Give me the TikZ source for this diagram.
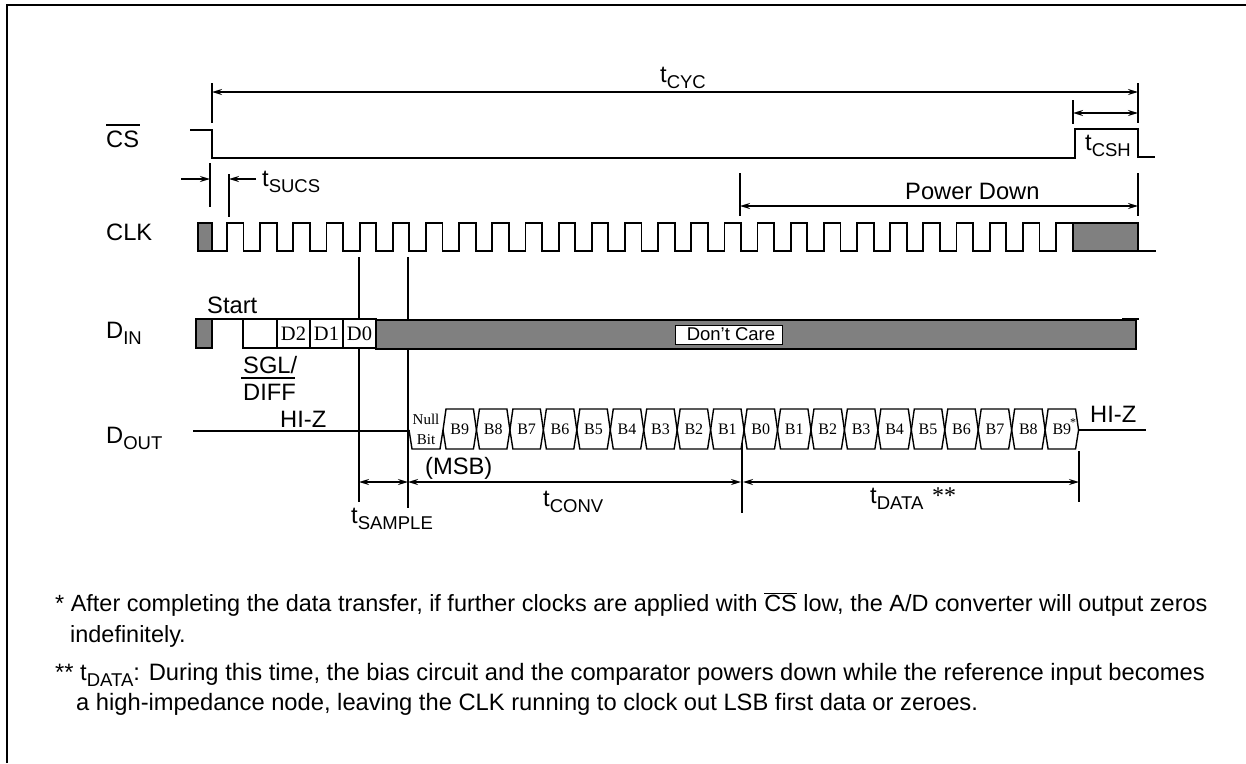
\documentclass[tikz,border=0pt]{standalone}
\usepackage{fontspec}
\setmainfont{Liberation Sans}
\newfontfamily\serifcell{Liberation Serif}
\usetikzlibrary{arrows.meta}
\definecolor{sgrey}{gray}{.5}
\newcommand{\sbt}[1]{\raisebox{-6pt}{\fontsize{18.5}{20}\selectfont #1}}
\newcommand{\ovl}[1]{$\overline{\mbox{#1}}$}
\tikzset{
	sig/.style={line width=1.8pt},
	hexcell/.style={line width=1.4pt},
	dim/.style={line width=1.5pt,{Stealth[length=10pt,width=6pt]}-{Stealth[length=10pt,width=6pt]}},
	dimr/.style={line width=1.5pt,-{Stealth[length=10pt,width=6pt]}},
	lbl/.style={anchor=base west,inner sep=0pt,font=\fontsize{23.7}{26}\selectfont},
	note/.style={anchor=base west,inner sep=0pt,font=\fontsize{23.45}{26}\selectfont},
	noteb/.style={anchor=base west,inner sep=0pt,font=\fontsize{23.72}{26}\selectfont},
	celltxt/.style={inner sep=0pt,font=\fontsize{16}{18}\serifcell},
	bigtxt/.style={inner sep=0pt,font=\fontsize{20.5}{22}\serifcell}
}
\begin{document}
\begin{tikzpicture}[x=1pt,y=-1pt]
	\useasboundingbox (0,0) rectangle (1246,763);
	\draw[line width=2pt] (7,763) -- (7,5) -- (1246,5);
	
	% row levels
	\def\clkhi{223}
	\def\clklo{251}
	\def\dinhi{320}
	\def\dinlo{349}
	\def\hexhi{409}
	\def\hexmid{430}
	\def\hexlo{449}
	\def\hexw{33.45}
	
	% extension lines
	\draw[sig] (212,83) -- (212,123);
	\draw[sig] (1138,83) -- (1138,123);
	\draw[sig] (1073,100) -- (1073,124);
	\draw[sig] (210,163) -- (210,207);
	\draw[sig] (229,174) -- (229,217);
	\draw[sig] (740,173) -- (740,216);
	\draw[sig] (1138,173) -- (1138,216);
	\draw[sig] (359,257) -- (359,502);
	\draw[sig] (408,257) -- (408,508);
	\draw[sig] (742,443) -- (742,513);
	\draw[sig] (1079,451) -- (1079,502);
	
	% dimensions
	\coordinate (cycl) at (212,92);
	\coordinate (cycr) at (1138,92);
	\draw[dim] (cycl) -- (cycr);
	\coordinate (cshl) at (1073,113);
	\coordinate (cshr) at (1138,113);
	\draw[dim] (cshl) -- (cshr);
	\coordinate (sua) at (181,179);
	\coordinate (sub) at (210,179);
	\coordinate (suc) at (256,179);
	\coordinate (sud) at (229,179);
	\draw[dimr] (sua) -- (sub);
	\draw[dimr] (suc) -- (sud);
	\coordinate (pdl) at (740,206);
	\coordinate (pdr) at (1138,206);
	\draw[dim] (pdl) -- (pdr);
	\coordinate (saml) at (359,482);
	\coordinate (samr) at (408,482);
	\coordinate (conr) at (741,482);
	\coordinate (datl) at (743,482);
	\coordinate (datr) at (1079,482);
	\draw[dim] (saml) -- (samr);
	\draw[dim] (samr) -- (conr);
	\draw[dim] (datl) -- (datr);
	
	% CS
	\draw[sig] (190,130) -- (212,130) -- (212,158) -- (1075,158) -- (1075,129) -- (1138,129) -- (1138,157) -- (1155,157);
	
	% CLK
	\draw[sig,fill=sgrey] (198,\clkhi) rectangle (212,\clklo);
	\draw[sig] (212,\clklo) -- (227,\clklo)
	foreach \k in {0,...,24} { -- ++(0,-28) -- ++(16.58,0) -- ++(0,28) -- ++(16.58,0)}
	-- ++(0,-28) -- (1073,\clkhi);
	\draw[sig,fill=sgrey] (1073,\clkhi) rectangle (1138,\clklo);
	\draw[sig] (1138,\clklo) -- (1156,\clklo);
	
	% DIN
	\draw[sig,fill=sgrey] (196,319) rectangle (212,348);
	\draw[sig] (212,319) -- (243,319);
	\draw[sig,fill=sgrey] (376,\dinhi) rectangle (1136,\dinlo);
	\draw[sig] (1122,319) -- (1139,319);
	\draw[sig,fill=white] (243,319) rectangle (277,348);
	\foreach \x/\lab in {277/D2,310/D1,343/D0}{
		\draw[sig,fill=white] (\x,319) rectangle ++(33,29);
		\node[bigtxt] (\lab) at (\x+16.5,333.5) {\lab};
	}
	\node[draw,line width=1.8pt,fill=white,minimum width=107pt,minimum height=19pt,inner sep=0pt] (dontbox) at (729,335) {};
	\node[anchor=base,inner sep=0pt,font=\fontsize{18.5}{20}\selectfont] (dont) at (731,340) {Don't Care};
	
	% DOUT
	\draw[sig] (193,431) -- (409,431);
	\draw[hexcell] (409,\hexmid) -- (412,\hexlo) -- (440,\hexlo) -- (443,\hexmid);
	\foreach \b [count=\i from 0] in {B9,B8,B7,B6,B5,B4,B3,B2,B1,B0,B1,B2,B3,B4,B5,B6,B7,B8,B9}{
		\pgfmathsetmacro\c{443+\hexw*\i}
		\draw[hexcell] (\c,\hexmid) -- (\c+3,\hexhi) -- (\c+\hexw-3,\hexhi) -- (\c+\hexw,\hexmid) -- (\c+\hexw-3,\hexlo) -- (\c+3,\hexlo) -- cycle;
		\node[celltxt] (cell\i) at (\c+.5*\hexw,429) {\b};
	}
	\draw[sig] (1078,430) -- (1146,430);
	\node[inner sep=0pt,font=\fontsize{12}{12}\serifcell] (stark) at (1073,423) {*};
	\node[anchor=base,inner sep=0pt,font=\fontsize{15}{16}\serifcell] (null) at (426,424) {Null};
	\node[anchor=base,inner sep=0pt,font=\fontsize{15}{16}\serifcell] (bit) at (426,444) {Bit};
	
	% signal names
	\node[lbl] (csname) at (106,147) {CS};
	\draw[sig] (106,125) -- (140,125);
	\node[lbl] (clkname) at (106,240) {CLK};
	\node[lbl] (dinname) at (106,338) {D\sbt{IN}};
	\node[lbl] (doutname) at (106,443) {D\sbt{OUT}};
	
	% timing labels
	\node[lbl] (tcyc) at (660,82) {t\sbt{CYC}};
	\node[lbl] (tcsh) at (1085,150) {t\sbt{CSH}};
	\node[lbl] (tsucs) at (262,186) {t\sbt{SUCS}};
	\node[lbl] (pdown) at (905,199) {Power Down};
	\node[lbl] (start) at (207,313) {Start};
	\node[lbl] (sgl) at (243,373) {SGL/};
	\node[lbl] (diff) at (243,400) {DIFF};
	\draw[sig] (241,378) -- (295,378);
	\node[lbl] (hizl) at (280,427) {HI-Z};
	\node[lbl] (hizr) at (1090,422) {HI-Z};
	\node[lbl] (msb) at (425,474) {(MSB)};
	\node[lbl] (tconv) at (543,506) {t\sbt{CONV}};
	\node[lbl] (tsample) at (351,523) {t\sbt{SAMPLE}};
	\node[lbl] (tdata) at (870,503) {t\sbt{DATA}};
	\node[anchor=base west,inner sep=0pt,font=\fontsize{24}{26}\serifcell] (tdstar) at (932,503) {**};
	
	% notes
	\node[note] (noteaa) at (55,611) {* After completing the data transfer, if further clocks are applied with \ovl{CS} low, the A/D converter will output zeros};
	\node[note] (noteab) at (70,642) {indefinitely.};
	\node[noteb] (noteba) at (55,680) {** t\sbt{DATA}: During this time, the bias circuit and the comparator powers down while the reference input becomes};
	\node[noteb] (notebb) at (76,710) {a high-impedance node, leaving the CLK running to clock out LSB first data or zeroes.};
\end{tikzpicture}
\end{document}
